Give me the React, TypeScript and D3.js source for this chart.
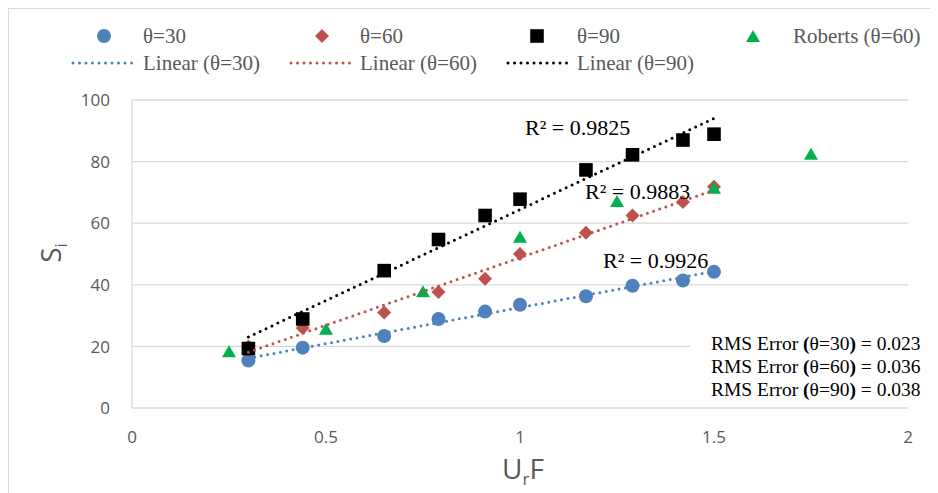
import React from "react";
import * as d3 from "d3";

const xVals = [0.3, 0.44, 0.65, 0.79, 0.91, 1.0, 1.17, 1.29, 1.42, 1.5];
const theta30 = [15.4, 19.6, 23.4, 28.9, 31.3, 33.5, 36.3, 39.7, 41.4, 44.2];
const theta60 = [20, 26, 31, 37.7, 42, 50, 56.9, 62.5, 66.9, 71.8];
const theta90 = [19.3, 28.9, 44.6, 54.7, 62.5, 67.8, 77.3, 82.2, 87, 88.9];
const robertsX = [0.25, 0.5, 0.75, 1.0, 1.25, 1.5, 1.75];
const robertsY = [18.1, 25.4, 37.6, 55.3, 66.9, 71.2, 82.2];

const xTicks = [0, 0.5, 1, 1.5, 2];
const yTicks = [0, 20, 40, 60, 80, 100];
const r2Labels = ["R² = 0.9825", "R² = 0.9883", "R² = 0.9926"];
const rmsLabels = [
  { t: "30", v: "0.023" },
  { t: "60", v: "0.036" },
  { t: "90", v: "0.038" },
];

const BLUE = "#4f81bd";
const RED = "#c0504d";
const GREEN = "#00b050";
const BLACK = "#000000";
const GRID = "#d9d9d9";
const LABEL = "#595959";
const SERIF = "'Liberation Serif', 'Times New Roman', serif";
const SANS = "'Open Sans', 'Liberation Sans', sans-serif";

function fit(xs: number[], ys: number[]) {
  const mx = d3.mean(xs)!;
  const my = d3.mean(ys)!;
  let num = 0, den = 0;
  xs.forEach((x, i) => {
    num += (x - mx) * (ys[i] - my);
    den += (x - mx) * (x - mx);
  });
  const b = num / den;
  const a = my - b * mx;
  return (x: number) => a + b * x;
}

const circlePath = d3.symbol(d3.symbolCircle, Math.PI * 49)()!;
const squarePath = "M-6.8,-6.8L6.8,-6.8L6.8,6.8L-6.8,6.8Z";
const diamondPath = "M0,-7L7,0L0,7L-7,0Z";
const trianglePath = "M0,-7L7,5L-7,5Z";

export default function App() {
  const W = 930;
  const H = 485;
  const x = d3.scaleLinear().domain([0, 2]).range([124, 900]);
  const y = d3.scaleLinear().domain([0, 100]).range([400, 92]);

  const series = [
    { ys: theta30, color: BLUE, path: circlePath },
    { ys: theta60, color: RED, path: diamondPath },
    { ys: theta90, color: BLACK, path: squarePath },
  ];
  const x0 = d3.min(xVals)!;
  const x1 = d3.max(xVals)!;

  const dotted = { strokeWidth: 3, strokeDasharray: "0 6.5", strokeLinecap: "round" as const, fill: "none" };

  return (
    <svg width={W} height={H} style={{ display: "block" }}>
      <rect x={0.5} y={0.5} width={W + 20} height={H + 20} fill="#fff" stroke={GRID} strokeWidth={1} />
      {yTicks.map((t) => (
        <line key={t} x1={x(0)} x2={x(2)} y1={y(t)} y2={y(t)} stroke={GRID} strokeWidth={1.3} />
      ))}
      <line x1={x(0)} x2={x(0)} y1={y(0)} y2={y(100)} stroke={GRID} strokeWidth={1.3} />
      {yTicks.map((t) => (
        <text key={t} x={102} y={y(t)} dy="0.36em" textAnchor="end" fontFamily={SANS} fontSize={17} fill={LABEL}>
          {t}
        </text>
      ))}
      {xTicks.map((t) => (
        <text key={t} x={x(t)} y={435} textAnchor="middle" fontFamily={SANS} fontSize={17} fill={LABEL}>
          {t}
        </text>
      ))}
      <text transform="translate(53,245) rotate(-90)" textAnchor="middle" fontFamily={SANS} fontSize={28} fill={LABEL}>
        S<tspan fontSize={17} dy="6">i</tspan>
      </text>
      <text x={515} y={471} textAnchor="middle" fontFamily={SANS} fontSize={28} fill={LABEL}>
        U<tspan fontSize={17} dy="6">r</tspan>
        <tspan dy="-6">F</tspan>
      </text>
      <rect x={682} y={318} width={250} height={80} fill="#fff" />
      {rmsLabels.map((r, i) => (
        <text key={i} x={703} y={342 + i * 23} fontFamily={SERIF} fontSize={19.5} fill="#000">
          RMS Error <tspan fontWeight="bold">(</tspan>θ={r.t}
          <tspan fontWeight="bold">)</tspan> = {r.v}
        </text>
      ))}
      {series.map((s, si) =>
        xVals.map((xv, i) => (
          <path key={`${si}-${i}`} d={s.path} transform={`translate(${x(xv)},${y(s.ys[i])})`} fill={s.color} />
        ))
      )}
      {robertsX.map((xv, i) => (
        <path key={`r-${i}`} d={trianglePath} transform={`translate(${x(xv)},${y(robertsY[i])})`} fill={GREEN} />
      ))}
      {series.map((s, si) => {
        const f = fit(xVals, s.ys);
        const pts: [number, number][] = [
          [x(x0), y(f(x0))],
          [x(x1), y(f(x1))],
        ];
        const l = d3.line()(pts)!;
        return <path key={`t-${si}`} d={l} stroke={s.color} {...dotted} />;
      })}
      <text x={517} y={127} fontFamily={SERIF} fontSize={22} fill="#000">{r2Labels[0]}</text>
      <text x={577} y={191} fontFamily={SERIF} fontSize={22} fill="#000">{r2Labels[1]}</text>
      <text x={595} y={260} fontFamily={SERIF} fontSize={22} fill="#000">{r2Labels[2]}</text>
      <path d={circlePath} transform="translate(96,28)" fill={BLUE} />
      <text x={135} y={35} fontFamily={SERIF} fontSize={21} fill={LABEL}>θ=30</text>
      <path d={diamondPath} transform="translate(314,28)" fill={RED} />
      <text x={352} y={35} fontFamily={SERIF} fontSize={21} fill={LABEL}>θ=60</text>
      <path d={squarePath} transform="translate(529,28)" fill={BLACK} />
      <text x={569} y={35} fontFamily={SERIF} fontSize={21} fill={LABEL}>θ=90</text>
      <path d={trianglePath} transform="translate(745,29)" fill={GREEN} />
      <text x={785} y={35} fontFamily={SERIF} fontSize={21} fill={LABEL}>Roberts (θ=60)</text>
      <path d="M65,55L125,55" stroke={BLUE} {...dotted} />
      <text x={135} y={62} fontFamily={SERIF} fontSize={21} fill={LABEL}>Linear (θ=30)</text>
      <path d="M283,55L342,55" stroke={RED} {...dotted} />
      <text x={352} y={62} fontFamily={SERIF} fontSize={21} fill={LABEL}>Linear (θ=60)</text>
      <path d="M500,55L559,55" stroke={BLACK} {...dotted} />
      <text x={569} y={62} fontFamily={SERIF} fontSize={21} fill={LABEL}>Linear (θ=90)</text>
    </svg>
  );
}
